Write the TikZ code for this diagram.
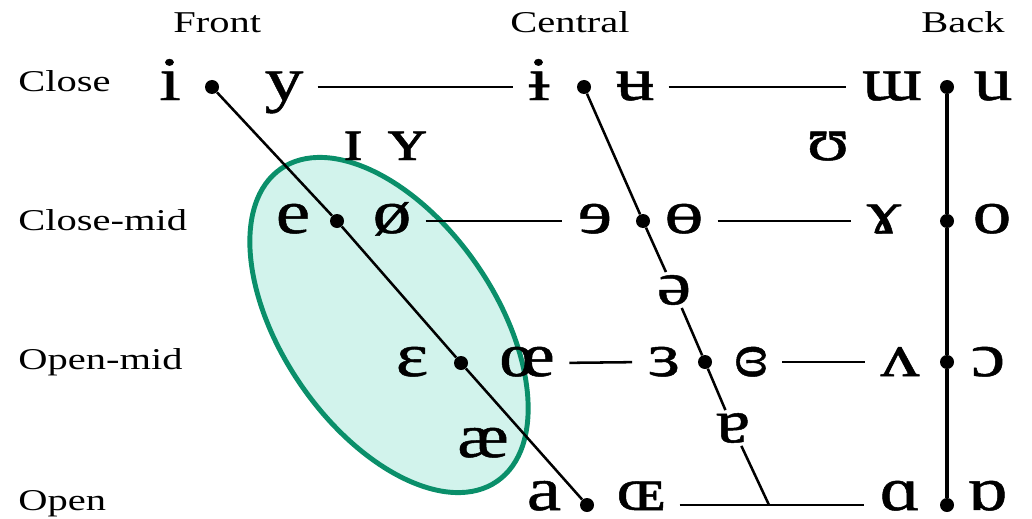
\documentclass[tikz,border=0pt]{standalone}
\usepackage{fontspec}
\setmainfont[FakeStretch=1.34]{Liberation Serif}
\newfontfamily\ipafont[FakeStretch=1.25, FakeBold=0.8]{Liberation Serif}
\usetikzlibrary{calc}
\definecolor{ellfill}{HTML}{D2F3EC}
\definecolor{ellline}{HTML}{0A8F6A}
\tikzset{
  vowel/.style={font=\ipafont\fontsize{44}{44}\selectfont, inner sep=0pt, anchor=base},
  midvowel/.style={font=\ipafont\fontsize{44}{44}\selectfont, inner sep=2pt},
  lbl/.style={font=\fontsize{21.5}{21.5}\selectfont, inner sep=0pt, anchor=base west},
  dot/.style={circle, fill, inner sep=0pt, minimum size=0.35cm},
  chart/.style={line width=1.8pt},
  row/.style={line width=1.8pt, shorten <=10pt, shorten >=11pt}
}

\begin{document}
\begin{tikzpicture}[x=0.025cm, y=-0.025cm]
\useasboundingbox (0,0) rectangle (1032,519);

% highlighted region
\draw[ellline, fill=ellfill, line width=3.5pt, rotate around={-55.3:(389,325)}]
  (389,325) ellipse [x radius=190, y radius=106.5];

% headers
\node[lbl] (front) at (173,33) {Front};
\node[lbl] (central) at (510,33) {Central};
\node[lbl] (back) at (921,33) {Back};
\node[lbl] (close) at (18,92) {Close};
\node[lbl] (closemid) at (18,230) {Close-mid};
\node[lbl] (openmid) at (18,369) {Open-mid};
\node[lbl] (open) at (18,510) {Open};

% dots
\node[dot] (fcl) at (212,87) {};
\node[dot] (fcm) at (337,221) {};
\node[dot] (fom) at (461,363) {};
\node[dot] (fop) at (587,505) {};
\node[dot] (ccl) at (584,87) {};
\node[dot] (ccm) at (643,221) {};
\node[dot] (com) at (705,362) {};
\coordinate (cop) at (769,505);
\node[dot] (bcl) at (947,87) {};
\node[dot] (bcm) at (947,221) {};
\node[dot] (bom) at (947,362) {};
\node[dot] (bop) at (947,505) {};

% vowels
\node[vowel] (vi) at (170,100) {i};
\node[vowel] (vy) at (284,100) {y};
\node[vowel] (vbari) at (539,100) {ɨ};
\node[vowel] (vbaru) at (635,100) {ʉ};
\node[vowel] (vturnm) at (892,100) {ɯ};
\node[vowel] (vu) at (993,100) {u};
\node[vowel] (vsmi) at (353,160) {ɪ};
\node[vowel] (vsmy) at (407,160) {ʏ};
\node[vowel] (vupsilon) at (828,160) {ʊ};
\node[vowel] (ve) at (293,233) {e};
\node[vowel] (vslo) at (392,233) {ø};
\node[vowel] (vreve) at (595,233) {ɘ};
\node[vowel] (vbaro) at (684,233) {ɵ};
\node[vowel] (vrams) at (884,233) {ɤ};
\node[vowel] (vo) at (992,233) {o};
\node[midvowel] (vschwa) at (674,290) {ə};
\node[vowel] (veps) at (412,376) {ɛ};
\node[vowel] (voe) at (527,376) {œ};
\node[vowel] (vreveps) at (664,376) {ɜ};
\node[vowel] (vcloseps) at (751,376) {ɞ};
\node[vowel] (vturnv) at (900,376) {ʌ};
\node[vowel] (vopeno) at (988,376) {ɔ};
\node[vowel] (vae) at (483,457) {æ};
\node[midvowel] (vturna) at (733,428) {ɐ};
\node[vowel] (va) at (544,510) {a};
\node[vowel] (vsmoe) at (641,510) {ɶ};
\node[vowel] (vscra) at (900,510) {ɑ};
\node[vowel] (vturnscra) at (987,510) {ɒ};

% chart lines
\draw[chart] (fcl) -- (fcm) -- (fom) -- (fop);
\draw[chart] (ccl) -- (ccm) -- (vschwa);
\draw[chart] (vschwa) -- (com) -- (vturna);
\draw[chart] (vturna) -- (cop);
\draw[line width=2.2pt] (bcl) -- (bcm) -- (bom) -- (bop);
\draw[row] (vy.east |- fcl) -- (vbari.west |- fcl);
\draw[row] (vbaru.east |- ccl) -- (vturnm.west |- bcl);
\draw[row] (vslo.east |- fcm) -- (vreve.west |- ccm);
\draw[row] (vbaro.east |- ccm) -- (vrams.west |- bcm);
\draw[row] (voe.east |- fom) -- (vreveps.west |- com);
\draw[row] (vcloseps.east |- com) -- (vturnv.west |- bom);
\draw[row] (vsmoe.east |- fop) -- (vscra.west |- bop);
\end{tikzpicture}
\end{document}
